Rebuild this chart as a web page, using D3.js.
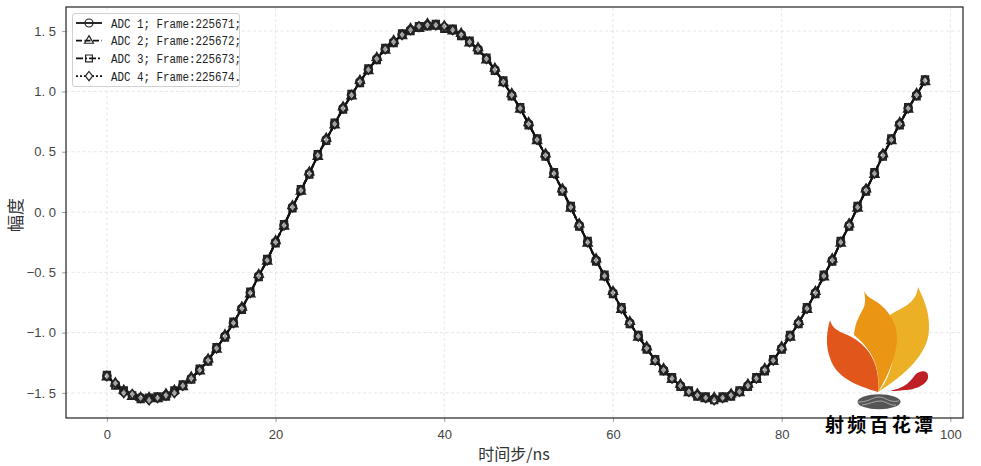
<!DOCTYPE html>
<html>
<head>
<meta charset="utf-8">
<script src="https://cdn.jsdelivr.net/npm/d3@7"></script>
<style>
  html, body { margin: 0; padding: 0; background: #fff; }
  svg { display: block; }
</style>
</head>
<body>
<div id="chart"></div>
<script>
const xTicks = [0, 20, 40, 60, 80, 100];
const yTicks = [-1.5, -1.0, -0.5, 0.0, 0.5, 1.0, 1.5];
const legendLabels = ["ADC 1; Frame:225671;", "ADC 2; Frame:225672;", "ADC 3; Frame:225673;", "ADC 4; Frame:225674."];

const adc1 = [-1.36,-1.43,-1.49,-1.52,-1.54,-1.55,-1.54,-1.52,-1.49,-1.44,-1.38,-1.31,-1.23,-1.13,-1.03,-0.92,-0.80,-0.67,-0.53,-0.40,-0.25,-0.11,0.04,0.18,0.32,0.47,0.60,0.73,0.86,0.97,1.08,1.18,1.27,1.35,1.41,1.47,1.51,1.53,1.55,1.55,1.53,1.51,1.47,1.41,1.35,1.27,1.18,1.08,0.97,0.86,0.73,0.60,0.47,0.32,0.18,0.04,-0.11,-0.25,-0.40,-0.53,-0.67,-0.80,-0.92,-1.03,-1.13,-1.23,-1.31,-1.38,-1.44,-1.49,-1.52,-1.54,-1.55,-1.54,-1.52,-1.49,-1.44,-1.38,-1.31,-1.23,-1.13,-1.03,-0.92,-0.80,-0.67,-0.53,-0.40,-0.25,-0.11,0.04,0.18,0.32,0.47,0.60,0.73,0.86,0.97,1.09];
const adc2 = [-1.37,-1.42,-1.48,-1.53,-1.54,-1.54,-1.55,-1.51,-1.48,-1.45,-1.37,-1.32,-1.22,-1.14,-1.02,-0.93,-0.79,-0.68,-0.52,-0.41,-0.24,-0.12,0.05,0.17,0.33,0.46,0.61,0.72,0.87,0.96,1.09,1.17,1.28,1.34,1.42,1.46,1.52,1.52,1.56,1.54,1.54,1.50,1.48,1.40,1.36,1.26,1.19,1.07,0.98,0.85,0.74,0.59,0.48,0.31,0.19,0.03,-0.10,-0.26,-0.39,-0.54,-0.66,-0.81,-0.91,-1.04,-1.12,-1.24,-1.30,-1.39,-1.43,-1.50,-1.51,-1.55,-1.54,-1.55,-1.51,-1.50,-1.43,-1.39,-1.30,-1.24,-1.12,-1.04,-0.91,-0.81,-0.66,-0.54,-0.39,-0.26,-0.10,0.03,0.19,0.31,0.48,0.59,0.74,0.85,0.98,1.08];
const adc3 = [-1.35,-1.44,-1.48,-1.52,-1.55,-1.54,-1.53,-1.53,-1.48,-1.43,-1.39,-1.30,-1.24,-1.12,-1.04,-0.91,-0.81,-0.66,-0.54,-0.39,-0.26,-0.10,0.03,0.19,0.31,0.48,0.59,0.74,0.85,0.98,1.07,1.19,1.26,1.36,1.40,1.48,1.50,1.54,1.54,1.56,1.52,1.52,1.46,1.42,1.34,1.28,1.17,1.09,0.96,0.87,0.72,0.61,0.46,0.33,0.17,0.05,-0.12,-0.24,-0.41,-0.52,-0.68,-0.79,-0.93,-1.02,-1.14,-1.22,-1.32,-1.37,-1.45,-1.48,-1.53,-1.53,-1.56,-1.53,-1.53,-1.48,-1.45,-1.37,-1.32,-1.22,-1.14,-1.02,-0.93,-0.79,-0.68,-0.52,-0.41,-0.24,-0.12,0.05,0.17,0.33,0.46,0.61,0.72,0.87,0.96,1.10];
const adc4 = [-1.36,-1.42,-1.50,-1.51,-1.54,-1.56,-1.54,-1.52,-1.50,-1.44,-1.38,-1.31,-1.23,-1.13,-1.03,-0.92,-0.80,-0.67,-0.53,-0.40,-0.25,-0.11,0.04,0.18,0.32,0.47,0.60,0.73,0.86,0.97,1.08,1.18,1.27,1.35,1.41,1.47,1.51,1.54,1.55,1.55,1.54,1.51,1.47,1.41,1.35,1.27,1.18,1.08,0.97,0.86,0.73,0.60,0.47,0.32,0.18,0.04,-0.11,-0.25,-0.40,-0.53,-0.67,-0.80,-0.92,-1.03,-1.13,-1.23,-1.31,-1.38,-1.44,-1.49,-1.52,-1.54,-1.56,-1.54,-1.52,-1.49,-1.44,-1.38,-1.31,-1.23,-1.13,-1.03,-0.92,-0.80,-0.67,-0.53,-0.40,-0.25,-0.11,0.04,0.18,0.32,0.47,0.60,0.73,0.86,0.97,1.09];

const width = 981;
const height = 466;
const margin = { top: 7, right: 18, bottom: 48, left: 66 };
const monoFont = "'Liberation Mono', 'DejaVu Sans Mono', monospace";
const tickFont = "'Liberation Sans', sans-serif";
const cjkFont = "'Noto Sans CJK SC', sans-serif";
const ink = "#111";

const svg = d3.select("#chart").append("svg")
  .attr("width", width)
  .attr("height", height)
  .attr("viewBox", `0 0 ${width} ${height}`);

const x = d3.scaleLinear()
  .domain([-4.85, 101.5])
  .range([margin.left, width - margin.right]);

const y = d3.scaleLinear()
  .domain([-1.708, 1.7])
  .range([height - margin.bottom, margin.top]);

// grid
const grid = svg.append("g").attr("stroke", "#d4d4d4").attr("stroke-width", 0.8).attr("stroke-dasharray", "3,2.5").attr("opacity", 0.7);
grid.selectAll(".gx").data(xTicks).enter().append("line")
  .attr("x1", d => x(d)).attr("x2", d => x(d))
  .attr("y1", y.range()[0]).attr("y2", y.range()[1]);
grid.selectAll(".gy").data(yTicks).enter().append("line")
  .attr("x1", x.range()[0]).attr("x2", x.range()[1])
  .attr("y1", d => y(d)).attr("y2", d => y(d));

// marker shapes, drawn around 0,0
const markerPath = {
  circle: d3.symbol().type(d3.symbolCircle).size(50)(),
  triangle: d3.symbol().type(d3.symbolTriangle).size(34)(),
  square: d3.symbol().type(d3.symbolSquare).size(46)(),
  diamond: "M0,-4.6L3.6,0L0,4.6L-3.6,0Z"
};

const series = [
  { values: adc1, dash: null, marker: markerPath.circle, fill: "none", fillOpacity: 1 },
  { values: adc2, dash: "6,2.5", marker: markerPath.triangle, fill: "none", fillOpacity: 1 },
  { values: adc3, dash: "7,2,2,2", marker: markerPath.square, fill: "none", fillOpacity: 1 },
  { values: adc4, dash: "2,2", marker: markerPath.diamond, fill: "#fff", fillOpacity: 0.6 }
];

const line = d3.line().x((d, i) => x(i)).y(d => y(d));

series.forEach(s => {
  const g = svg.append("g");
  g.append("path")
    .attr("d", line(s.values))
    .attr("fill", "none")
    .attr("stroke", ink)
    .attr("stroke-width", 2)
    .attr("stroke-dasharray", s.dash);
  g.selectAll("path.m")
    .data(s.values)
    .enter()
    .append("path")
    .attr("class", "m")
    .attr("d", s.marker)
    .attr("transform", (d, i) => `translate(${x(i)},${y(d)})`)
    .attr("fill", s.fill)
    .attr("fill-opacity", s.fillOpacity)
    .attr("stroke", "#222")
    .attr("stroke-width", 1.6);
});

// axes
const xAxis = d3.axisBottom(x).tickValues(xTicks).tickSize(4).tickPadding(8).tickFormat(d3.format("d"));
const yAxis = d3.axisLeft(y).tickValues(yTicks).tickSize(4).tickPadding(6)
  .tickFormat(d => (d < 0 ? "\u2212" : "") + d3.format(".1f")(Math.abs(d)).replace(".", ". "));

const gx = svg.append("g").attr("transform", `translate(0,${y.range()[0]})`).call(xAxis);
const gy = svg.append("g").attr("transform", `translate(${margin.left},0)`).call(yAxis);
[gx, gy].forEach(g => {
  g.select(".domain").remove();
  g.selectAll(".tick line").attr("stroke", "#888").attr("stroke-width", 0.8);
  g.selectAll("text")
    .attr("fill", "#444")
    .style("font-family", tickFont)
    .style("font-size", "13px");
});

svg.append("rect")
  .attr("x", margin.left).attr("y", margin.top)
  .attr("width", x.range()[1] - margin.left)
  .attr("height", y.range()[0] - margin.top)
  .attr("fill", "none")
  .attr("stroke", "#222")
  .attr("stroke-width", 1.2);

svg.append("text")
  .attr("x", 514).attr("y", 460)
  .attr("text-anchor", "middle")
  .attr("fill", "#333")
  .style("font-family", cjkFont)
  .style("font-size", "16px")
  .text("时间步/ns");

svg.append("text")
  .attr("transform", "translate(22,215) rotate(-90)")
  .attr("text-anchor", "middle")
  .attr("fill", "#333")
  .style("font-family", cjkFont)
  .style("font-size", "17px")
  .text("幅度");

// legend
const legend = svg.append("g");
legend.append("rect")
  .attr("x", 72.5).attr("y", 13.5)
  .attr("width", 167).attr("height", 73)
  .attr("rx", 2.5)
  .attr("fill", "#fff")
  .attr("fill-opacity", 0.85)
  .attr("stroke", "#ccc")
  .attr("stroke-width", 0.9);

const legendRow = legend.selectAll("g.row")
  .data(series)
  .enter()
  .append("g")
  .attr("class", "row")
  .attr("transform", (d, i) => `translate(0,${23 + i * 17.7})`);

legendRow.append("line")
  .attr("x1", 76).attr("x2", 102)
  .attr("stroke", ink)
  .attr("stroke-width", 1.8)
  .attr("stroke-dasharray", d => d.dash);
legendRow.append("path")
  .attr("d", d => d.marker)
  .attr("transform", "translate(89,0)")
  .attr("fill", d => d.fill)
  .attr("stroke", "#222")
  .attr("stroke-width", 1.2);
legendRow.append("text")
  .attr("x", 111)
  .attr("y", 4.5)
  .attr("fill", "#222")
  .attr("textLength", 130)
  .attr("lengthAdjust", "spacingAndGlyphs")
  .style("font-family", monoFont)
  .style("font-size", "12.5px")
  .text((d, i) => legendLabels[i]);

// logo watermark
const logo = svg.append("g");
logo.append("path")
  .attr("d", "M918,287 C922,296 930,310 929,330 C928,354 905,375 878,392 C890,380 900,350 890,315 C900,308 916,305 918,287Z")
  .attr("fill", "#EBB026");
logo.append("path")
  .attr("d", "M864,291 C868,299 876,300 882,306 C892,315 898,328 897,340 C896,358 886,380 878,392 C881,365 870,348 854,335 C855,322 860,315 864,307 C866,301 865,296 864,291Z")
  .attr("fill", "#EA9614");
logo.append("path")
  .attr("d", "M830,320 C832,328 838,331 845,334 C865,342 881,360 878,392 C858,386 836,378 830,358 C825,345 827,330 830,320Z")
  .attr("fill", "#E0561B");
logo.append("path")
  .attr("d", "M890,391 C902,388 908,385 915,375 C920,370 928,370 928,376 C929,384 915,390 905,390 C898,391 893,391 890,391Z")
  .attr("fill", "#BE2026");
logo.append("ellipse")
  .attr("cx", 879).attr("cy", 401.7).attr("rx", 21.5).attr("ry", 7.5)
  .attr("fill", "#555");
logo.append("path")
  .attr("d", "M858,402 C870,402 872,397 879,397 M879,397 C886,397 888,403 899,401 M862,405 C870,404 874,401 880,401 C886,401 890,406 896,405")
  .attr("fill", "none")
  .attr("stroke", "#bbb")
  .attr("stroke-width", 0.8);
logo.append("text")
  .attr("x", 825).attr("y", 432)
  .attr("fill", "#000")
  .attr("font-weight", "bold")
  .attr("textLength", 108)
  .style("font-family", cjkFont)
  .style("font-size", "19px")
  .text("射频百花潭");
</script>
</body>
</html>
